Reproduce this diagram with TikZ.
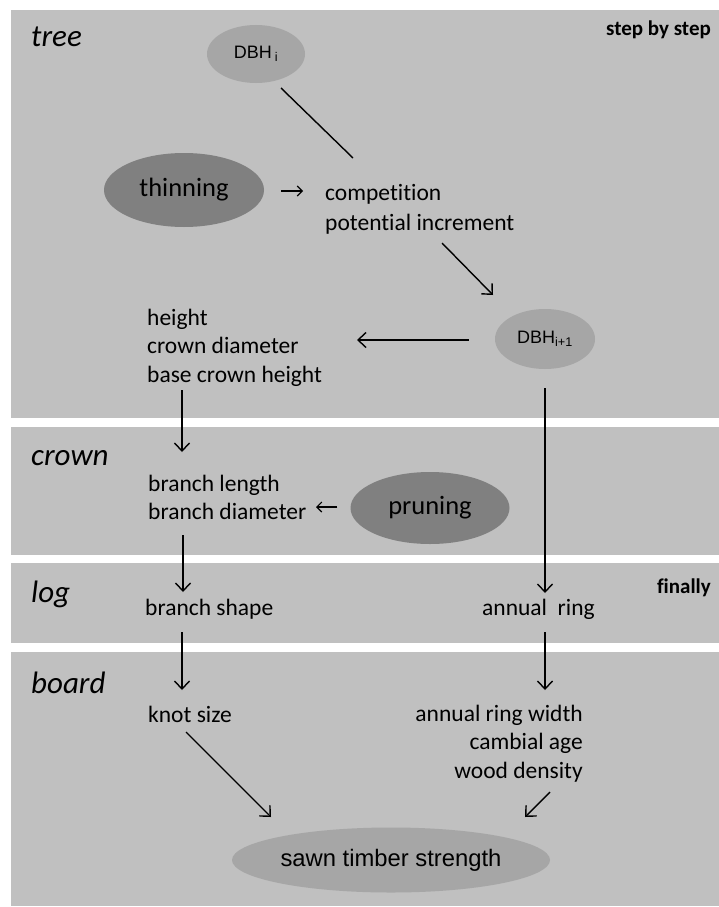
\documentclass[tikz,border=0pt]{standalone}
\usepackage{fontspec}
\setmainfont{Carlito}[Ligatures=CommonOff]
\newfontfamily\arialfont{Liberation Sans}
\usetikzlibrary{shapes.geometric,arrows.meta}
\definecolor{panelgray}{HTML}{C0C0C0}
\definecolor{ovalgray}{HTML}{A6A6A6}
\definecolor{ovaldark}{HTML}{808080}
\tikzset{
  txt/.style={inner sep=0pt, font=\fontsize{23.5}{29}\selectfont, align=left},
  oval/.style={ellipse, fill=ovalgray, inner sep=0pt},
  darkoval/.style={ellipse, fill=ovaldark, inner sep=0pt, font=\fontsize{26.5}{30}\selectfont},
  arr/.style={-{Straight Barb[length=8pt,width=15pt]}, line width=1.4pt},
  smallarr/.style={-{Straight Barb[length=5pt,width=10pt]}, line width=1.1pt}
}
\begin{document}
\begin{tikzpicture}[x=1pt,y=-1pt]
\useasboundingbox (0,0) rectangle (719,907);
\foreach \top/\bot/\name/\base in {10/418/tree/47, 427/555/crown/465, 563/643/log/602, 652/906/board/693} {
  \fill[panelgray] (11,\top) rectangle (719,\bot);
  \node[txt, font=\fontsize{31}{37}\selectfont\itshape, anchor=base west] (\name) at (31,\base) {\name};
}
\node[txt, font=\fontsize{21}{25}\selectfont\bfseries, anchor=base east] (step) at (711,36) {step by step};
\node[txt, font=\fontsize{21}{25}\selectfont\bfseries, anchor=base east] (finally) at (711,593) {finally};

\node[oval, minimum width=98, minimum height=58, font=\arialfont\fontsize{18}{22}\selectfont] (dbhi) at (256,54) {DBH\,\textsubscript{i}};
\node[darkoval, minimum width=160, minimum height=74] (thin) at (184,190) {thinning};
\node[txt, font=\fontsize{23.5}{30}\selectfont, anchor=base west] (comp) at (325,230) {competition\\potential increment};
\node[oval, minimum width=100, minimum height=60, font=\arialfont\fontsize{18}{22}\selectfont] (dbhn) at (545,339) {DBH\textsubscript{i+1}};
\node[txt, font=\fontsize{23.5}{28.5}\selectfont, anchor=base west] (crownsize) at (147,382) {height\\crown diameter\\base crown height};
\node[txt, font=\fontsize{23.5}{28}\selectfont, anchor=base west] (branch) at (148,519) {branch length\\branch diameter};
\node[darkoval, minimum width=159, minimum height=72] (prune) at (430,508) {pruning};
\node[txt, anchor=base west] (shape) at (145,615) {branch shape};
\node[txt, anchor=base west] (ring) at (482,615) {annual\ \ ring};
\node[txt, anchor=base west] (knot) at (148,722) {knot size};
\node[txt, font=\fontsize{23.5}{28.5}\selectfont, anchor=base east, align=right] (wood) at (583,778) {annual ring width\\cambial age\\wood density};
\node[oval, minimum width=318, minimum height=65, font=\arialfont\fontsize{23.8}{28}\selectfont] (mor) at (391,860) {sawn timber strength};

\draw[line width=1.4pt] ([shift={(25,34)}]dbhi.center) -- ([shift={(28,-72)}]comp.base west);
\draw[smallarr] ([shift={(17,1)}]thin.east) -- ([shift={(-22,-39)}]comp.base west);
\draw[arr] ([shift={(117,13)}]comp.base west) -- ([shift={(-52,-44)}]dbhn.center);
\draw[arr] ([shift={(-26,1)}]dbhn.west) -- ([shift={(210,-42)}]crownsize.base west);
\draw[arr] ([shift={(35,8)}]crownsize.base west) -- ([shift={(34,-67)}]branch.base west);
\draw[smallarr] ([shift={(-13,-1)}]prune.west) -- ([shift={(168,-12)}]branch.base west);
\draw[arr] ([shift={(35,16)}]branch.base west) -- ([shift={(38,-23)}]shape.base west);
\draw[arr] ([shift={(0,19)}]dbhn.south) -- ([shift={(63,-22)}]ring.base west);
\draw[arr] ([shift={(37,17)}]shape.base west) -- ([shift={(34,-32)}]knot.base west);
\draw[arr] ([shift={(63,17)}]ring.base west) -- ([shift={(-38,-88)}]wood.base east);
\draw[arr] ([shift={(38,10)}]knot.base west) -- ([shift={(-120,-43)}]mor.center);
\draw[arr] ([shift={(-33,14)}]wood.base east) -- ([shift={(134,-43)}]mor.center);
\end{tikzpicture}
\end{document}
